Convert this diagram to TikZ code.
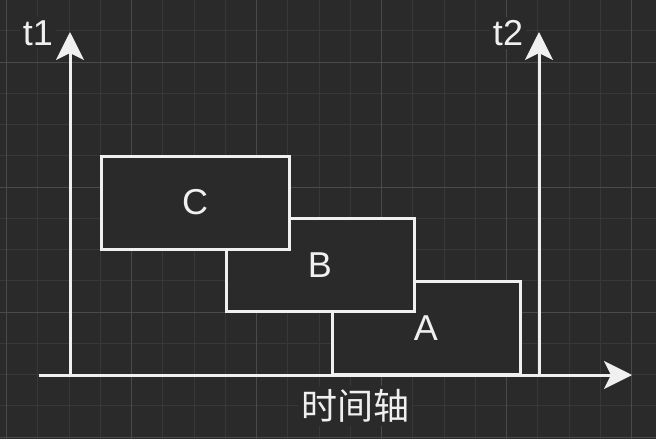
\documentclass[tikz,border=0pt]{standalone}
\usepackage{fontspec}
\setmainfont{Liberation Sans}
\newfontfamily\cjk{Noto Sans CJK SC}
\usetikzlibrary{arrows.meta}
\definecolor{bgc}{HTML}{2A2A2A}
\definecolor{minorc}{HTML}{383838}
\definecolor{majorc}{HTML}{4A4A4A}
\definecolor{fgc}{HTML}{F0F0F0}
\tikzset{
  minorline/.style={draw=minorc, line width=1pt},
  majorline/.style={draw=majorc, line width=1pt},
  blockbox/.style={draw=fgc, fill=bgc, line width=3pt, minimum width=188pt, minimum height=93pt, inner sep=0pt, text=fgc, font=\fontsize{36}{40}\selectfont},
  axisline/.style={draw=fgc, line width=3pt, -{Stealth[length=28pt,width=28pt,inset=7pt]}},
  axislabel/.style={text=fgc, fill=bgc, inner sep=3pt, font=\fontsize{36}{40}\selectfont},
}
\begin{document}
\begin{tikzpicture}[x=1pt,y=-1pt]
\fill[bgc] (0,0) rectangle (656,439);
\useasboundingbox (0,0) rectangle (656,439);
% grid
\foreach \i in {0,...,20} \draw[minorline] ({6.7+31.25*\i},0) -- ({6.7+31.25*\i},439);
\foreach \i in {1,...,14} \draw[minorline] (0,{-0.5+31.25*\i}) -- (656,{-0.5+31.25*\i});
\foreach \i in {0,...,5} \draw[majorline] ({6.7+125*\i},0) -- ({6.7+125*\i},439);
\foreach \i in {0,...,3} \draw[majorline] (0,{62+125*\i}) -- (656,{62+125*\i});
% axes
\coordinate (o1) at (70,375);
\coordinate (tip1) at (70,32);
\coordinate (o2) at (539,375);
\coordinate (tip2) at (539,32);
\coordinate (xs) at (39,375);
\coordinate (xe) at (632,375);
\draw[axisline] (o1) -- (tip1);
\draw[axisline] (o2) -- (tip2);
% boxes
\node[blockbox] (A) at (426,328) {A};
\node[blockbox] (B) at (320,265) {B};
\node[blockbox] (C) at (195,202.5) {C};
\draw[axisline] (xs) -- (xe);
% labels
\node[axislabel] (lt1) at (38,33) {t1};
\node[axislabel] (lt2) at (508,33) {t2};
\node[axislabel] (lx) at (355,406) {\cjk 时间轴};
\end{tikzpicture}
\end{document}
